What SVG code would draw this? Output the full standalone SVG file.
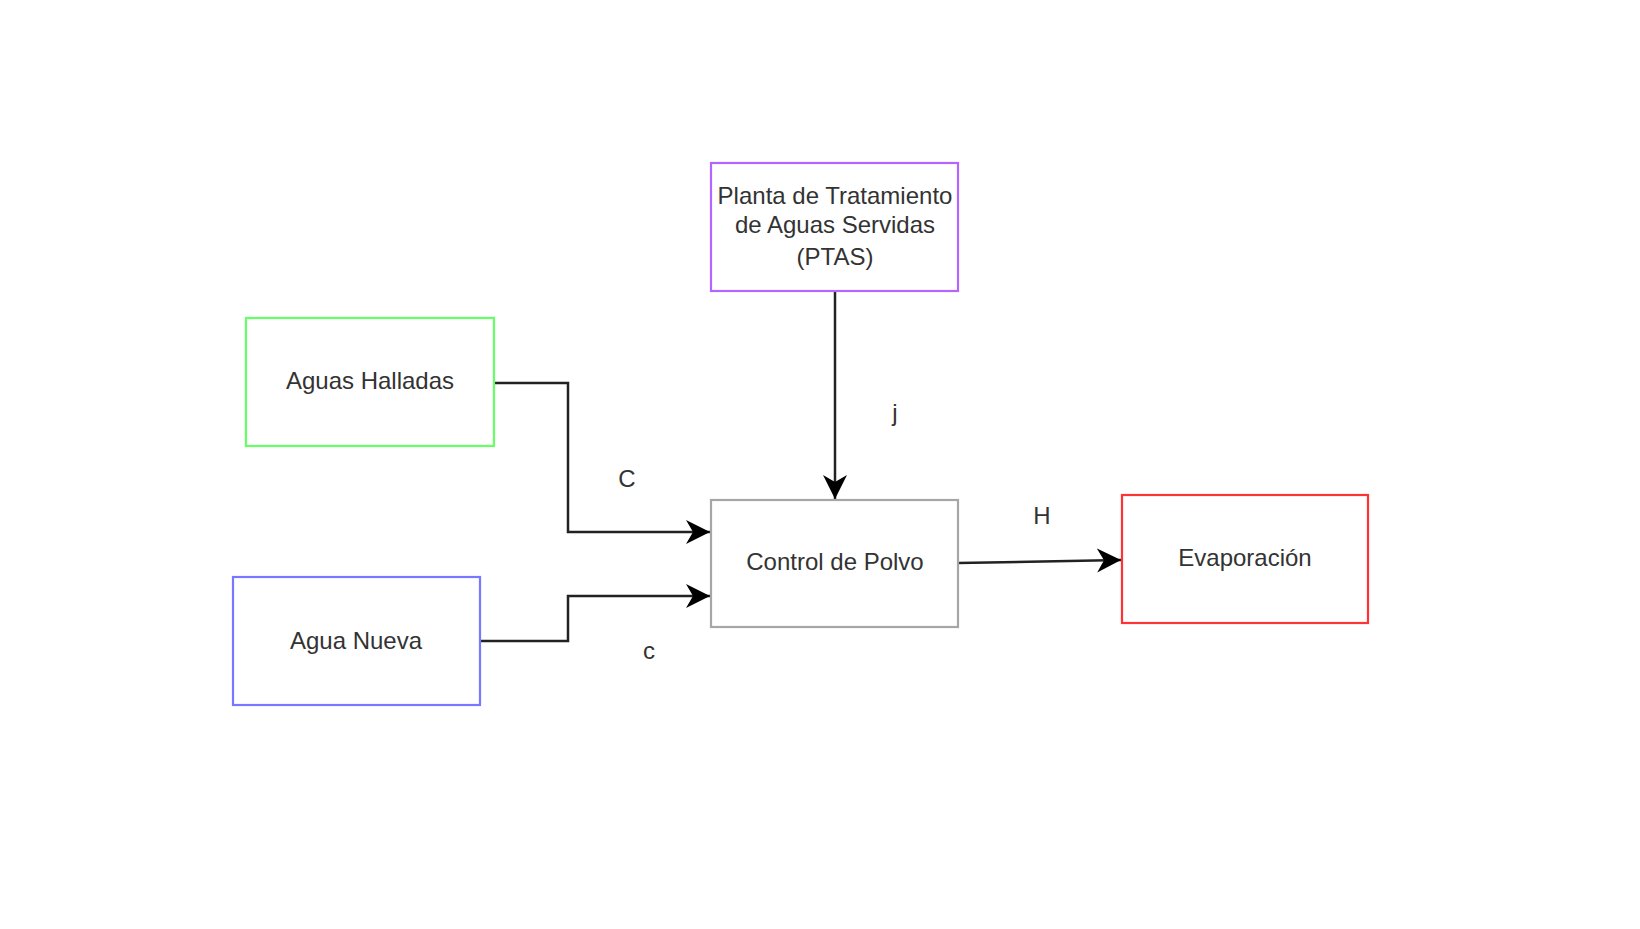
<svg xmlns="http://www.w3.org/2000/svg" width="1640" height="929" viewBox="0 0 1640 929">
<defs>
<style>
.box{fill:#ffffff;stroke-width:2.2}
.t{font-family:"Liberation Sans",Arial,sans-serif;font-size:24px;fill:#333333;text-anchor:middle;dominant-baseline:central}
.c{fill:none;stroke:#222222;stroke-width:2.5}
</style>
<marker id="arr" markerUnits="userSpaceOnUse" markerWidth="26" markerHeight="26" viewBox="0 0 26 26" refX="24" refY="13" orient="auto">
<path d="M0,1 L24,13 L0,25 L7,13 Z" fill="#000000"/>
</marker>
</defs>
<rect width="1640" height="929" fill="#ffffff"/>
<g id="connectors">
<path class="c" d="M494,383 H568 V532 H710" marker-end="url(#arr)"/>
<path class="c" d="M480,641 H568 V596 H710" marker-end="url(#arr)"/>
<path class="c" d="M835,291 V499" marker-end="url(#arr)"/>
<path class="c" d="M958,563 L1121,560" marker-end="url(#arr)"/>
<text class="t" x="627" y="478">C</text>
<text class="t" x="649" y="650">c</text>
<text class="t" x="895" y="412">j</text>
<text class="t" x="1042" y="515">H</text>
</g>
<g id="ptas">
<rect class="box" x="711" y="163" width="247" height="128" stroke="#B266FF"/>
<text class="t" x="835" y="195">Planta de Tratamiento</text>
<text class="t" x="835" y="224">de Aguas Servidas</text>
<text class="t" x="835" y="256">(PTAS)</text>
</g>
<g id="aguas-halladas">
<rect class="box" x="246" y="318" width="248" height="128" stroke="#66FF66"/>
<text class="t" x="370" y="380">Aguas Halladas</text>
</g>
<g id="agua-nueva">
<rect class="box" x="233" y="577" width="247" height="128" stroke="#7777FF"/>
<text class="t" x="356" y="640">Agua Nueva</text>
</g>
<g id="control-polvo">
<rect class="box" x="711" y="500" width="247" height="127" stroke="#A6A6A6"/>
<text class="t" x="835" y="561">Control de Polvo</text>
</g>
<g id="evaporacion">
<rect class="box" x="1122" y="495" width="246" height="128" stroke="#FF3333"/>
<text class="t" x="1245" y="557">Evaporación</text>
</g>
</svg>
